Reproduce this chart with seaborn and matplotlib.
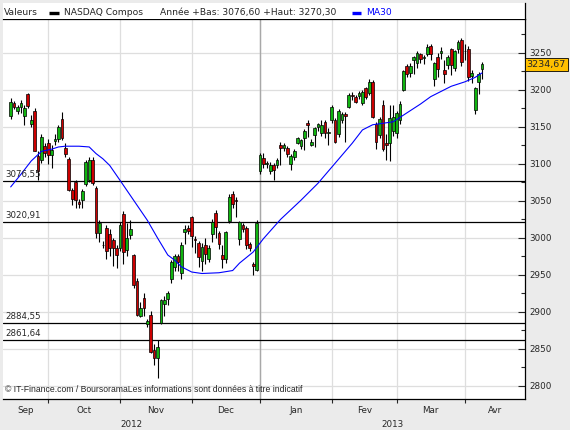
import numpy as np
import pandas as pd
import matplotlib
matplotlib.use('Agg')
import matplotlib.pyplot as plt
import matplotlib.transforms as mtransforms
import seaborn as sns

# daily candles, NASDAQ Composite, mid Sep 2012 -> early Apr 2013
opens = [3165, 3182, 3171, 3177, 3165, 3194, 3154, 3172, 3111, 3105, 3124,
         3128, 3112, 3131, 3134, 3161, 3121, 3107, 3065, 3075, 3049, 3051, 3073, 3079, 3105, 3068, 3007, 2991, 3013, 3005, 2997, 2987,
         2986, 3032, 2984, 3004, 2977, 2942, 2894, 2919, 2884, 2896, 2849, 2838, 2885, 2911, 2918, 2945, 2961, 2975, 2953, 3008, 3014,
         3029, 2999, 2993, 2969, 2990, 2972, 3005, 3034, 3007, 2977, 2972, 3023, 3059, 3051, 2999, 3018, 3013, 2992, 2965, 2957,
         3090, 3108, 3100, 3090, 3099, 3099, 3126, 3121, 3121, 3100, 3110, 3129, 3124, 3135, 3156, 3126, 3139, 3150, 3142, 3157, 3142,
         3160, 3160, 3141, 3159, 3168, 3177, 3193, 3190, 3192, 3182, 3202, 3196, 3211, 3154, 3139, 3180, 3128, 3129, 3145,
         3142, 3159, 3200, 3232, 3223, 3240, 3237, 3248, 3243, 3248, 3259, 3215, 3245, 3250, 3227, 3234, 3255, 3230, 3256, 3267,
         3252, 3256, 3219, 3173, 3211, 3228]
highs = [3189, 3185, 3180, 3187, 3180, 3196, 3166, 3175, 3117, 3141, 3128,
         3134, 3126, 3140, 3152, 3170, 3128, 3110, 3068, 3078, 3052, 3066, 3106, 3110, 3110, 3070, 3024, 2996, 3017, 3012, 3000, 2990,
         3021, 3036, 3020, 3024, 2978, 2946, 2913, 2926, 2890, 2901, 2857, 2862, 2917, 2922, 2928, 2970, 2978, 2978, 2994, 3018, 3017,
         3030, 3002, 2996, 2993, 3000, 2991, 3025, 3038, 3010, 2990, 3010, 3060, 3063, 3056, 3023, 3020, 3016, 2995, 2968, 3024,
         3115, 3115, 3104, 3103, 3101, 3108, 3130, 3129, 3124, 3114, 3120, 3137, 3134, 3147, 3160, 3134, 3150, 3156, 3160, 3160, 3148,
         3180, 3162, 3174, 3170, 3170, 3196, 3197, 3193, 3199, 3200, 3204, 3215, 3213, 3157, 3164, 3186, 3140, 3180, 3180,
         3172, 3185, 3227, 3235, 3236, 3246, 3252, 3250, 3247, 3262, 3262, 3238, 3250, 3258, 3240, 3247, 3257, 3254, 3268, 3270,
         3262, 3260, 3227, 3204, 3224, 3238]
lows = [3161, 3174, 3168, 3169, 3153, 3176, 3150, 3117, 3078, 3101, 3110,
        3100, 3094, 3126, 3130, 3132, 3110, 3063, 3045, 3041, 3040, 3040, 3070, 3075, 3072, 3000, 2995, 2986, 2971, 2975, 2962, 2960,
        2983, 2965, 2976, 2998, 2932, 2894, 2893, 2895, 2880, 2845, 2828, 2811, 2884, 2895, 2910, 2939, 2955, 2955, 2944, 2992, 3005,
        2988, 2980, 2961, 2955, 2965, 2968, 2995, 3000, 2985, 2960, 2966, 3020, 3040, 3029, 2990, 3008, 2985, 2982, 2950, 2955,
        3087, 3095, 3095, 3086, 3079, 3095, 3098, 3117, 3110, 3092, 3106, 3127, 3120, 3119, 3136, 3124, 3123, 3145, 3138, 3135, 3125,
        3155, 3128, 3137, 3155, 3130, 3175, 3187, 3182, 3188, 3180, 3188, 3193, 3162, 3120, 3135, 3117, 3105, 3104, 3138,
        3135, 3154, 3198, 3218, 3218, 3222, 3230, 3236, 3235, 3246, 3240, 3205, 3218, 3242, 3210, 3228, 3220, 3226, 3250, 3232,
        3240, 3212, 3210, 3168, 3195, 3215]
closes = [3184, 3177, 3177, 3182, 3176, 3179, 3160, 3118, 3090, 3136, 3115,
          3112, 3119, 3134, 3150, 3135, 3113, 3065, 3052, 3051, 3046, 3063, 3103, 3106, 3074, 3007, 3020, 2990, 2983, 2986, 2987, 2977,
          3018, 2981, 3000, 3012, 2936, 2896, 2906, 2905, 2888, 2846, 2838, 2853, 2916, 2916, 2926, 2967, 2975, 2967, 2991, 3012, 3010,
          3003, 2997, 2974, 2988, 2978, 2986, 3022, 3015, 2992, 2971, 3008, 3055, 3046, 3050, 3021, 3012, 2991, 2986, 2962, 3020,
          3112, 3100, 3101, 3099, 3092, 3105, 3121, 3126, 3114, 3111, 3118, 3135, 3132, 3144, 3153, 3130, 3148, 3154, 3153, 3142, 3143,
          3177, 3130, 3171, 3167, 3165, 3193, 3192, 3184, 3196, 3197, 3191, 3211, 3163, 3130, 3161, 3120, 3125, 3162, 3163,
          3169, 3181, 3225, 3222, 3232, 3244, 3250, 3242, 3245, 3258, 3248, 3236, 3228, 3253, 3221, 3244, 3234, 3252, 3265, 3238,
          3253, 3217, 3223, 3202, 3221, 3234.67]

# MA30 line, read at a few points (trading-day index, value)
ma_idx = [0, 3, 6, 9, 12, 14, 16, 20, 23, 25, 27, 29, 32, 36, 40, 43, 46, 48, 50, 53, 56, 61, 65, 67,
          71, 74, 79, 85, 90, 95, 100, 103, 106, 109, 112, 116, 120, 123, 126, 129, 133, 136, 138]
ma_val = [3069, 3086, 3104, 3117, 3120, 3123, 3124, 3124, 3123, 3114, 3107, 3098, 3078, 3051, 3024, 3000, 2977, 2970, 2961,
          2954, 2952, 2953, 2956, 2966, 2981, 2999, 3025, 3051, 3074, 3101, 3128, 3146, 3153, 3155, 3157, 3169, 3181, 3191,
          3198, 3205, 3211, 3217, 3223]

levels = [3076.55, 3020.91, 2884.55, 2861.64]
level_labels = ['3076,55', '3020,91', '2884,55', '2861,64']

month_start = [11, 32, 53, 73, 94, 113, 133]
month_names = ['Sep', 'Oct', 'Nov', 'Dec', 'Jan', 'Fev', 'Mar', 'Avr']
years = ['2012', '2013']
last_price = '3234,67'

df = pd.DataFrame({'open': opens, 'high': highs, 'low': lows, 'close': closes})
df['i'] = np.arange(len(df))
df['up'] = df['close'] >= df['open']

sns.set_style('white')
plt.rcParams['font.family'] = ['DejaVu Sans']

fig = plt.figure(figsize=(5.7, 4.3), dpi=100, facecolor='#ebebeb')
ax = fig.add_axes([3 / 570, 31 / 430, 522 / 570, 379.7 / 430])
ax.set_facecolor('white')
x0, x1 = -2.25, 150.6
ax.set_xlim(x0, x1)
ax.set_ylim(2782.4, 3295.5)

# grid
ax.set_yticks(np.arange(2800, 3300, 50))
ax.set_yticks(np.arange(2825, 3300, 50), minor=True)
ax.set_xticks(month_start)
ax.set_xticklabels([])
ax.grid(True, which='major', color='#dedede', lw=0.9, zorder=0)
ax.axvline(month_start[3], color='#a8a8a8', lw=1.0, zorder=1)

for lv in levels:
    ax.axhline(lv, color='black', lw=0.9, zorder=2)

# candles
ax.vlines(df['i'], df['low'], df['high'], color='black', lw=0.8, zorder=3)
body = np.maximum((df['close'] - df['open']).abs(), 0.4)
ax.bar(df['i'], body, bottom=np.minimum(df['open'], df['close']), width=0.8,
       color=np.where(df['up'], '#10b410', '#cc0000'), edgecolor='black', linewidth=0.5, zorder=4)

sns.lineplot(x=ma_idx, y=ma_val, ax=ax, color='#0000ff', lw=0.8, zorder=5)

# axes styling
ax.spines['left'].set_visible(False)
for s in ['right', 'bottom', 'top']:
    ax.spines[s].set_color('black')
    ax.spines[s].set_linewidth(0.9)
ax.yaxis.tick_right()
ax.tick_params(axis='y', which='major', direction='in', length=5, width=0.8, labelsize=6.3, pad=3,
               right=True, left=False)
ax.tick_params(axis='y', which='minor', direction='in', length=3, width=0.8, right=True, left=False)
ax.tick_params(axis='x', which='major', direction='out', length=3, width=0.8, bottom=True)
ax.set_yticklabels([str(v) for v in np.arange(2800, 3300, 50)])
ax.set_xlabel('')
ax.set_ylabel('')

# month and year labels
tr = mtransforms.blended_transform_factory(ax.transData, ax.transAxes)
edges = [x0] + month_start + [x1]
for k, name in enumerate(month_names):
    ax.text((edges[k] + edges[k + 1]) / 2, -0.029, name, transform=tr, ha='center', va='center',
            fontsize=6.3, clip_on=False)
ax.text((x0 + month_start[3]) / 2, -0.066, years[0], transform=tr, ha='center', va='center', fontsize=6.3, clip_on=False)
ax.text((month_start[3] + x1) / 2, -0.066, years[1], transform=tr, ha='center', va='center', fontsize=6.3, clip_on=False)

# level labels
trl = mtransforms.blended_transform_factory(ax.transAxes, ax.transData)
for lv, lab in zip(levels, level_labels):
    ax.annotate(lab, (0.004, lv), xycoords=trl, xytext=(0, 1.5), textcoords='offset points',
                ha='left', va='bottom', fontsize=6.2, zorder=6)

ax.text(0.004, 0.026, '© IT-Finance.com / BoursoramaLes informations sont données à titre indicatif',
        transform=ax.transAxes, ha='left', va='center', fontsize=6.2, family=['Liberation Sans', 'DejaVu Sans'])

# last price flag
ax.text(1.003, closes[-1], last_price, transform=trl, ha='left', va='center', fontsize=6.8, clip_on=False,
        bbox=dict(boxstyle='square,pad=0.2', fc='#ffc000', ec='black', lw=0.6), zorder=7)

# header strip
hdr = fig.add_axes([3 / 570, (430 - 19.3) / 430, 522 / 570, 16.3 / 430])
hdr.set_facecolor('white')
hdr.set_xlim(3, 525)
hdr.set_ylim(19.3, 3)
hdr.set_xticks([])
hdr.set_yticks([])
for s in ['top', 'left', 'bottom']:
    hdr.spines[s].set_visible(False)
hdr.spines['right'].set_color('black')
hdr.spines['right'].set_linewidth(0.9)
hdr.text(4, 12.5, 'Valeurs', va='center', ha='left', fontsize=6.6)
hdr.plot([49, 59], [12.5, 12.5], color='black', lw=2.4, solid_capstyle='butt')
hdr.text(64, 12.5, 'NASDAQ Compos', va='center', ha='left', fontsize=6.6)
hdr.text(160, 12.5, 'Année +Bas: 3076,60 +Haut: 3270,30', va='center', ha='left', fontsize=6.6)
hdr.plot([352, 361], [12.5, 12.5], color='#0000ff', lw=2.4, solid_capstyle='butt')
hdr.text(366, 12.5, 'MA30', va='center', ha='left', fontsize=6.6, color='#0000ff')

fig.savefig('out.png', dpi=100, facecolor=fig.get_facecolor())
